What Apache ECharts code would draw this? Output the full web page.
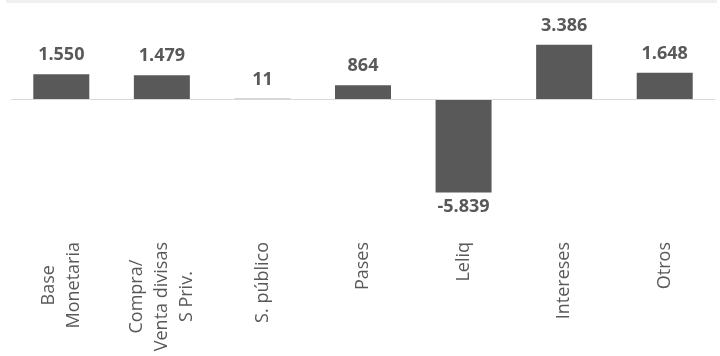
<!DOCTYPE html>
<html>
<head>
<meta charset="utf-8">
<script src="https://cdn.jsdelivr.net/npm/echarts@6/dist/echarts.min.js"></script>
<style>
  html, body { margin: 0; padding: 0; background: #fff; }
  #chart { width: 720px; height: 356px; }
</style>
</head>
<body>
<div id="chart"></div>
<script>
// categorías (saltos de línea como en el original)
const categories = ['Base\nMonetaria', 'Compra/\nVenta divisas\nS Priv.', 'S. público', 'Pases', 'Leliq', 'Intereses', 'Otros'];
const values = [1550, 1479, 11, 864, -5839, 3386, 1648];

const textColor = '#595959';
const fontFamily = '"Open Sans", sans-serif';

// formato con punto de miles
function fmt(v) {
  let s = Math.abs(v).toString().replace(/\B(?=(\d{3})+(?!\d))/g, '.');
  return (v < 0 ? '-' : '') + s;
}

const chart = echarts.init(document.getElementById('chart'));

const data = values.map(function (v) {
  return {
    value: v,
    label: {
      position: v < 0 ? 'bottom' : 'top',
      distance: v < 0 ? 5 : 10,
    },
  };
});

const option = {
  animation: false,
  backgroundColor: '#fff',
  graphic: [
    {
      type: 'rect',
      shape: { x: 6, y: 0, width: 711, height: 3 },
      style: { fill: '#f0f0f0' },
      silent: true,
    },
  ],
  grid: { left: 11, right: 5, top: 19, bottom: 129 },
  xAxis: {
    type: 'category',
    data: categories,
    axisLine: { show: false, onZero: false },
    axisTick: { show: false },
    axisLabel: {
      interval: 0,
      rotate: 90,
      margin: 15,
      formatter: function (val) {
        return val.split('\n').map(function (l) { return '{c|' + l + '}'; }).join('\n');
      },
      rich: {
        c: {
          align: 'center',
          color: textColor,
          fontFamily: fontFamily,
          fontSize: 18,
          lineHeight: 25,
        },
      },
    },
  },
  yAxis: {
    type: 'value',
    min: -8000,
    max: 5000,
    show: false,
    splitLine: { show: false },
  },
  series: [
    {
      type: 'bar',
      data: data,
      barWidth: 56,
      itemStyle: { color: '#595959' },
      label: {
        show: true,
        color: textColor,
        fontFamily: fontFamily,
        fontWeight: 'bold',
        fontSize: 18,
        formatter: function (p) { return fmt(p.value); },
      },
      markLine: {
        silent: true,
        symbol: 'none',
        label: { show: false },
        lineStyle: { color: '#d9d9d9', type: 'solid', width: 1 },
        data: [{ yAxis: 0 }],
      },
    },
  ],
};

chart.setOption(option);
</script>
</body>
</html>
